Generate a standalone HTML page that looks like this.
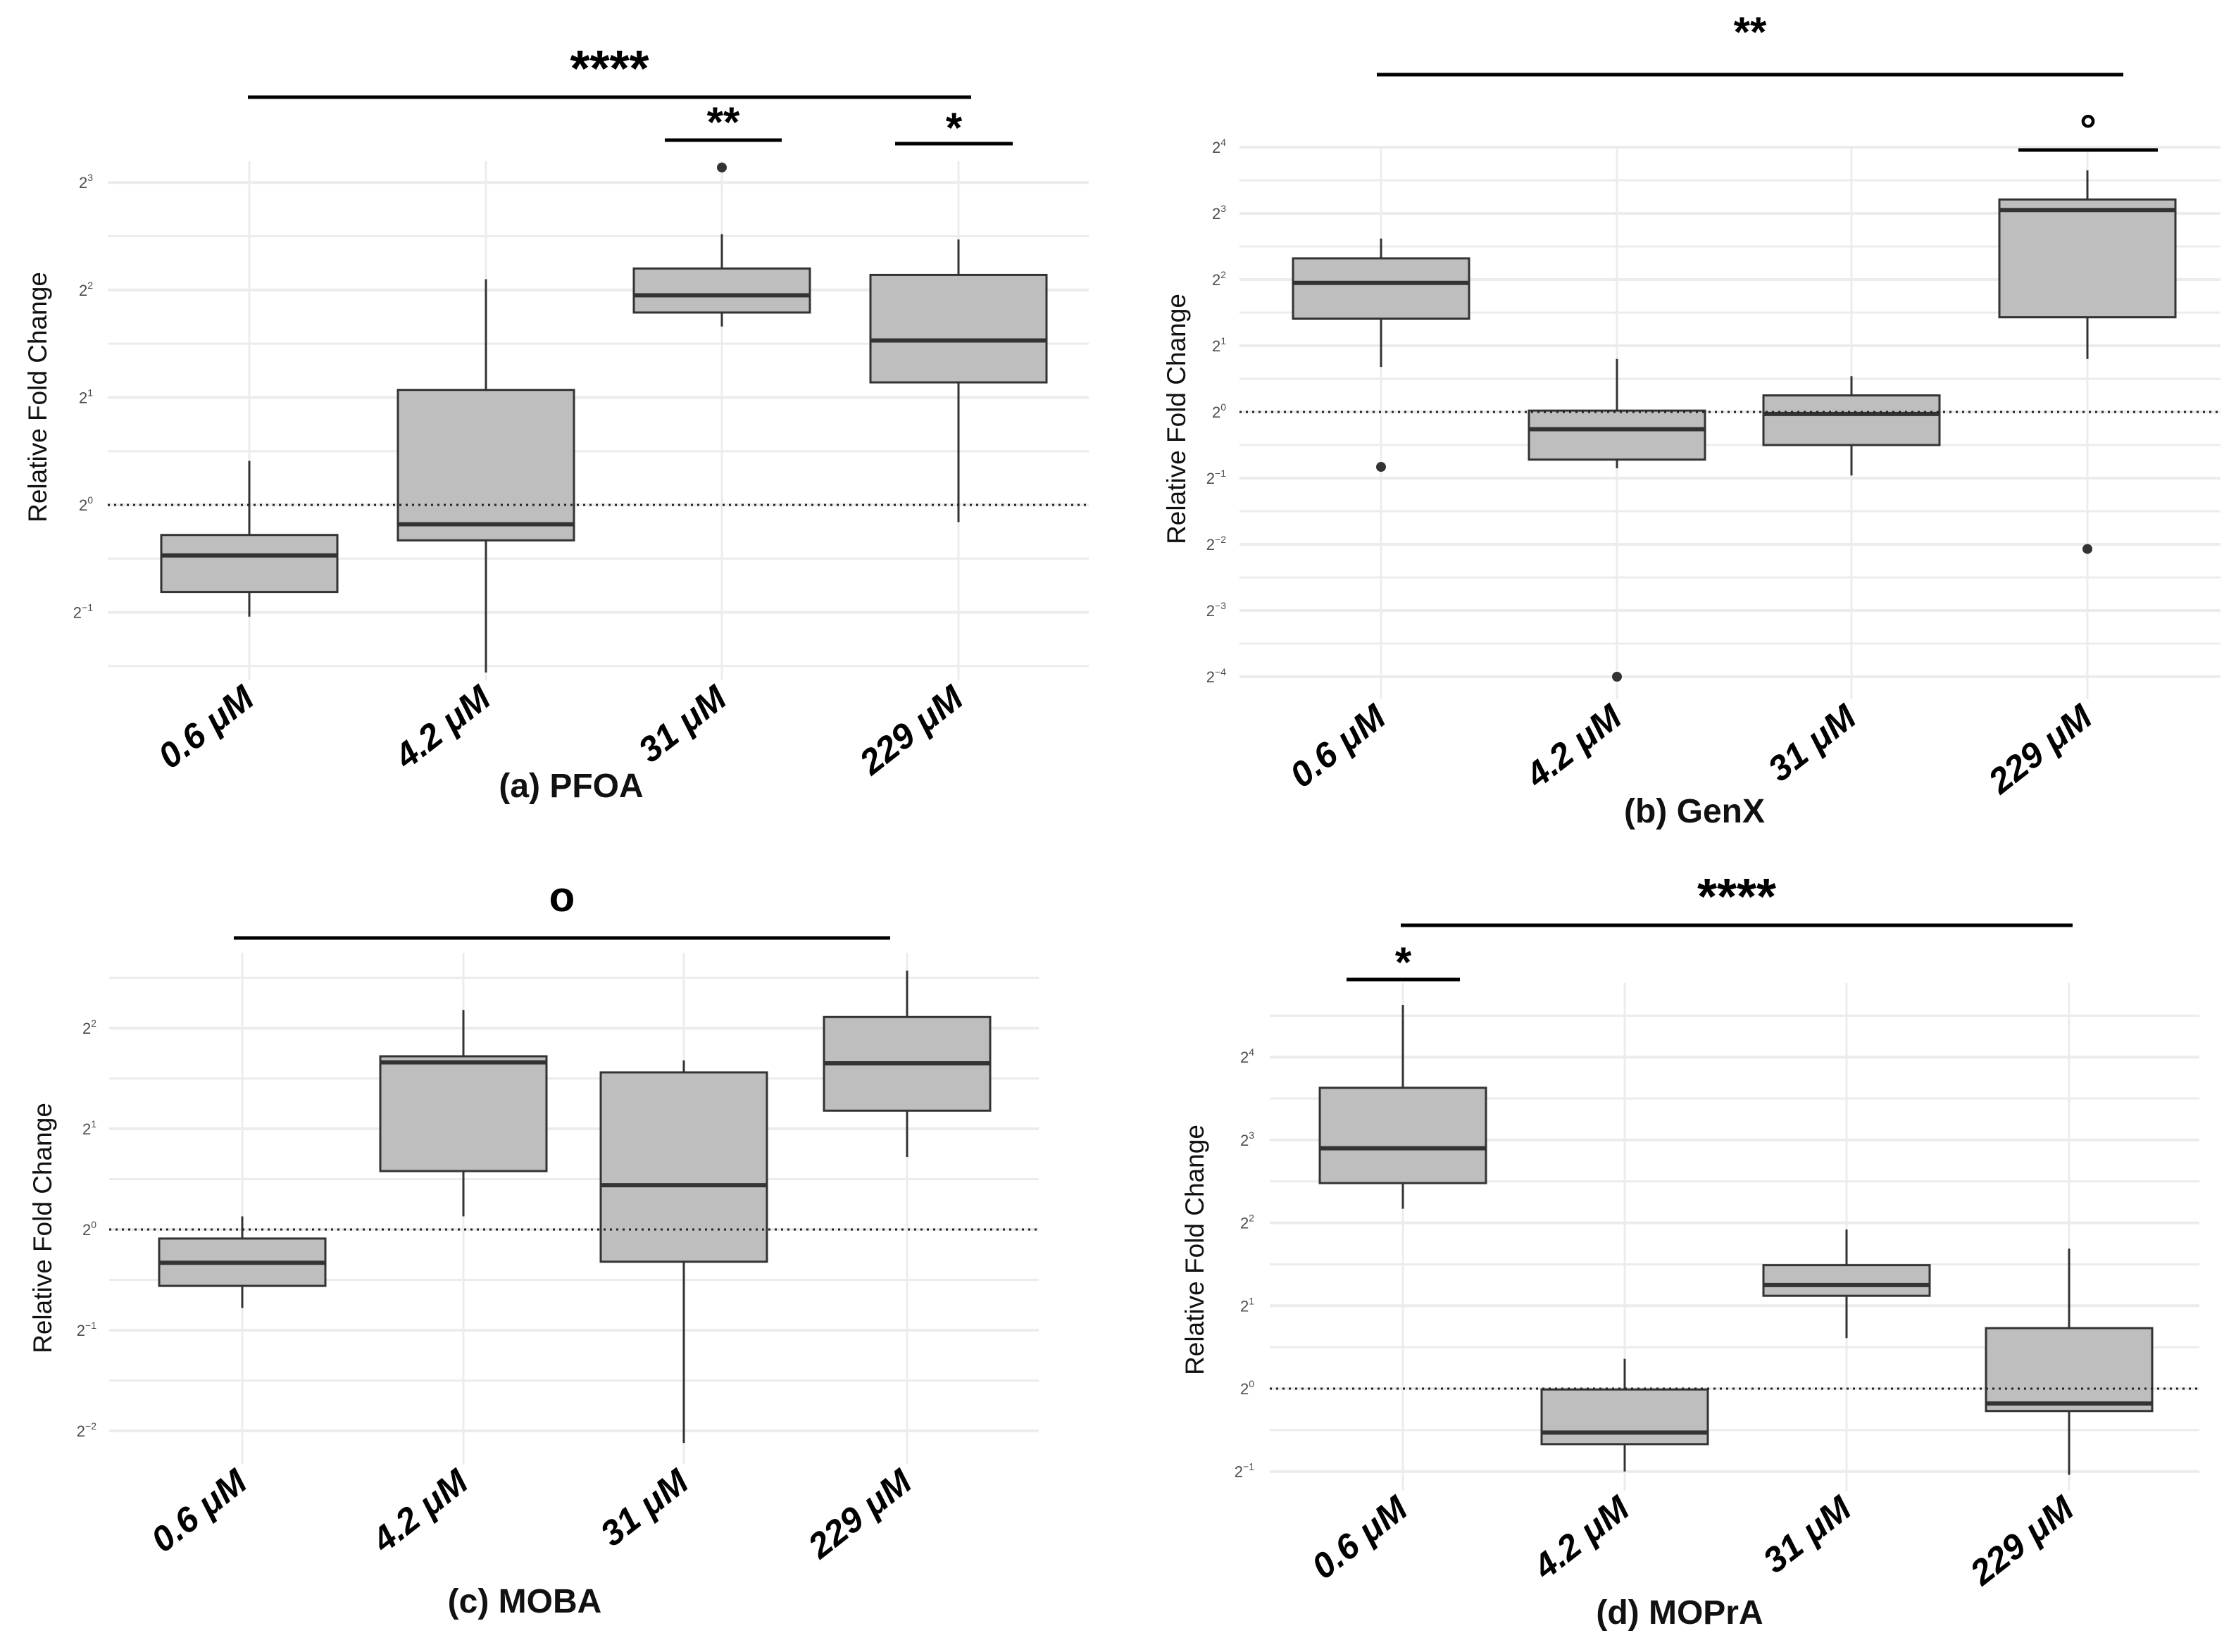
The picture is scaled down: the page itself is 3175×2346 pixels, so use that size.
<!DOCTYPE html>
<html><head><meta charset="utf-8"><style>
html,body{margin:0;padding:0;background:#fff}
svg{display:block}
text{font-family:"Liberation Sans",sans-serif}
</style></head><body>
<svg id="fig" width="3175" height="2346" viewBox="0 0 3175 2346" xmlns="http://www.w3.org/2000/svg"></svg>
<script>
const categories = ["0.6 \u03bcM","4.2 \u03bcM","31 \u03bcM","229 \u03bcM"];
// log2 values: [whiskerLow, Q1, median, Q3, whiskerHigh]
const pfoaStats = [[-1.04,-0.81,-0.47,-0.28,0.41],[-1.56,-0.33,-0.18,1.07,2.10],[1.66,1.79,1.95,2.20,2.52],[-0.16,1.14,1.53,2.14,2.47]];
const pfoaOutliers = [[],[],[3.14],[]];
const genxStats = [[0.68,1.41,1.95,2.32,2.62],[-0.85,-0.72,-0.26,0.02,0.80],[-0.96,-0.50,-0.03,0.25,0.54],[0.80,1.43,3.05,3.21,3.65]];
const genxOutliers = [[-0.83],[-4.0],[],[-2.07]];
const mobaStats = [[-0.78,-0.56,-0.33,-0.09,0.13],[0.13,0.58,1.66,1.72,2.18],[-2.12,-0.32,0.44,1.56,1.68],[0.72,1.18,1.65,2.11,2.57]];
const mobaOutliers = [[],[],[],[]];
const moprStats = [[2.17,2.48,2.90,3.63,4.63],[-1.0,-0.67,-0.53,-0.01,0.36],[0.61,1.12,1.25,1.49,1.92],[-1.04,-0.27,-0.18,0.73,1.69]];
const moprOutliers = [[],[],[],[]];
const pfoaTicks = [-1,0,1,2,3];
const genxTicks = [-4,-3,-2,-1,0,1,2,3,4];
const mobaTicks = [-2,-1,0,1,2];
const moprTicks = [-1,0,1,2,3,4];

const NS="http://www.w3.org/2000/svg";
const svg=document.getElementById('fig');
function mk(tag,attrs,parent){const e=document.createElementNS(NS,tag);for(const k in attrs)e.setAttribute(k,attrs[k]);(parent||svg).appendChild(e);return e;}

const panels=[
 {id:'pfoa',title:'(a) PFOA',stats:pfoaStats,outl:pfoaOutliers,ticks:pfoaTicks,xs:[354,690,1025,1361],gl:153,gr:1546,gt:229,gb:966,y0:717,u:152.6,hw:125,tickX:132,ylx:56,yly:564,titleX:811,titleY:1132,
  sig:[{x1:352,x2:1379,y:138,t:'****',ty:122},{x1:944,x2:1110,y:199,t:'**',ty:194},{x1:1271,x2:1438,y:204,t:'*',ty:202}]},
 {id:'genx',title:'(b) GenX',stats:genxStats,outl:genxOutliers,ticks:genxTicks,xs:[1961,2296,2629,2964],gl:1760,gr:3153,gt:211,gb:993,y0:585,u:94,hw:125,tickX:1741,ylx:1673,yly:595,titleX:2406,titleY:1168,
  sig:[{x1:1955,x2:3015,y:106,t:'**',ty:66},{x1:2866,x2:3064,y:213,t:'\u00b0',ty:205}]},
 {id:'moba',title:'(c) MOBA',stats:mobaStats,outl:mobaOutliers,ticks:mobaTicks,xs:[344,658,971,1288],gl:155,gr:1475,gt:1353,gb:2079,y0:1746,u:143,hw:118,tickX:137,ylx:63,yly:1744,titleX:745,titleY:2290,
  sig:[{x1:332,x2:1264,y:1332,t:'o',ty:1294}]},
 {id:'mopra',title:'(d) MOPrA',stats:moprStats,outl:moprOutliers,ticks:moprTicks,xs:[1992,2307,2622,2938],gl:1803,gr:3123,gt:1396,gb:2117,y0:1972,u:117.7,hw:118,tickX:1781,ylx:1699,yly:1775,titleX:2385,titleY:2306,
  sig:[{x1:1989,x2:2943,y:1314,t:'****',ty:1298},{x1:1912,x2:2073,y:1391,t:'*',ty:1387}]}
];

panels.forEach(p=>{
 const g=mk('g',{});
 
 
 const Y=v=>p.y0-v*p.u;
 const lo=p.ticks[0],hi=p.ticks[p.ticks.length-1];
 for(let v=lo-0.5;v<=hi+0.6;v+=0.5){
  const yy=Y(v); if(yy<p.gt-5||yy>p.gb+5) continue;
  const major=Math.abs(v-Math.round(v))<1e-6;
  const l=mk('line',{x1:p.gl,x2:p.gr,y1:yy,y2:yy,stroke:'#ececec','stroke-width':major?4:3},g);
  
  
 }
 p.xs.forEach(x=>{
  const l=mk('line',{x1:x,x2:x,y1:p.gt,y2:p.gb,stroke:'#ececec','stroke-width':3},g);
  
  
 });
 p.ticks.forEach(t=>{
  const tx=mk('text',{x:p.tickX,y:Y(t)+8,'text-anchor':'end','font-size':22,fill:'#4d4d4d'},g);
  
  
  tx.appendChild(document.createTextNode('2'));
  const s=mk('tspan',{dy:-10,'font-size':14},tx); s.textContent=String(t).replace('-','\u2212');
 });
 const yt=mk('text',{x:p.ylx,y:p.yly,transform:`rotate(-90 ${p.ylx} ${p.yly})`,'text-anchor':'middle','font-size':37,fill:'#111','dominant-baseline':'middle'},g);
 
 
 yt.textContent='Relative Fold Change';
 p.stats.forEach((s,i)=>{
  const x=p.xs[i];
  const w1=mk('line',{x1:x,x2:x,y1:Y(s[0]),y2:Y(s[1]),stroke:'#333','stroke-width':3},g);
  
  
  const w2=mk('line',{x1:x,x2:x,y1:Y(s[3]),y2:Y(s[4]),stroke:'#333','stroke-width':3},g);
  
  
  const r=mk('rect',{x:x-p.hw,y:Y(s[3]),width:2*p.hw,height:Y(s[1])-Y(s[3]),fill:'#bebebe',stroke:'#333','stroke-width':3},g);
  
  
  const m=mk('line',{x1:x-p.hw,x2:x+p.hw,y1:Y(s[2]),y2:Y(s[2]),stroke:'#333','stroke-width':6},g);
  
  
  p.outl[i].forEach(o=>{
   const c=mk('circle',{cx:x,cy:Y(o),r:7,fill:'#333'},g);
   
   
  });
  const lx=x+10, ly=p.gb+32;
  const xl=mk('text',{x:lx,y:ly,transform:`rotate(-38 ${lx} ${ly})`,'text-anchor':'end','font-size':50,'font-weight':'bold','font-style':'italic',fill:'#000'},g);
  
  
  xl.textContent=categories[i];
 });
 const d=mk('line',{x1:p.gl,x2:p.gr,y1:Y(0),y2:Y(0),stroke:'#222','stroke-width':3,'stroke-dasharray':'3 6'},g);
 
 
 p.sig.forEach(s=>{
  const b=mk('line',{x1:s.x1,x2:s.x2,y1:s.y,y2:s.y,stroke:'#000','stroke-width':5},g);
  
  
  const t=mk('text',{x:(s.x1+s.x2)/2,y:s.ty,'text-anchor':'middle','font-size':s.t.length>2?72:60,'font-weight':'bold',fill:'#000'},g);
  
  
  t.textContent=s.t;
 });
 const tt=mk('text',{x:p.titleX,y:p.titleY,'text-anchor':'middle','font-size':48,'font-weight':'bold',fill:'#111'},g);
 
 
 tt.textContent=p.title;
});
</script>
</body></html>
